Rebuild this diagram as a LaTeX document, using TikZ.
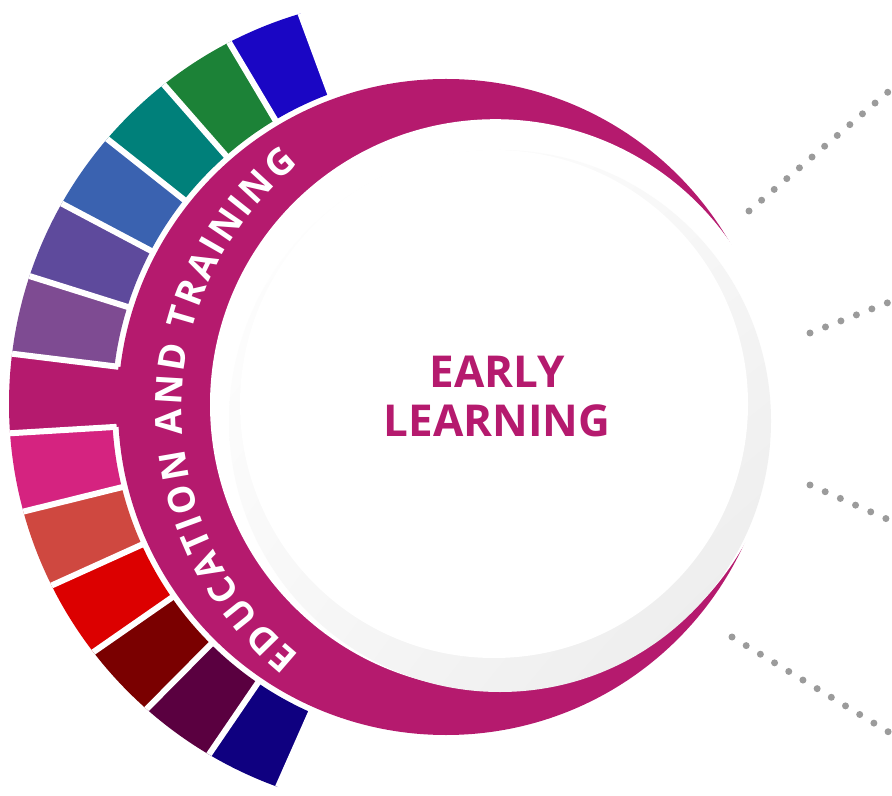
\documentclass[tikz,border=0pt]{standalone}
\usepackage{fontspec}
\setmainfont{Open Sans}
\usetikzlibrary{decorations.text,shadings}
\definecolor{ringmag}{RGB}{181,26,110}
\definecolor{bA}{RGB}{26,6,196}
\definecolor{bB}{RGB}{28,130,55}
\definecolor{bC}{RGB}{0,128,122}
\definecolor{bD}{RGB}{58,98,176}
\definecolor{bE}{RGB}{94,74,156}
\definecolor{bF}{RGB}{126,75,146}
\definecolor{bG}{RGB}{213,35,128}
\definecolor{bH}{RGB}{207,72,64}
\definecolor{bI}{RGB}{220,0,0}
\definecolor{bJ}{RGB}{122,0,0}
\definecolor{bK}{RGB}{90,0,64}
\definecolor{bL}{RGB}{15,0,128}
\definecolor{dotgrey}{RGB}{155,155,155}
\newcommand\curvefont{\bfseries\fontsize{21}{25}\selectfont}
\tikzset{
  sepline/.style={draw=white, line width=0.12cm},
  dotline/.style={draw=dotgrey, line width=0.14cm, line cap=round, dash pattern=on 0pt off 0.332cm},
  titletext/.style={font=\bfseries\fontsize{25}{28}\selectfont, text=ringmag, inner sep=0pt, anchor=base}
}
\begin{document}
\begin{tikzpicture}[x=0.02cm,y=0.02cm]
\useasboundingbox (0,0) rectangle (892,795);
\clip (0,0) rectangle (892,795);
% coloured blocks
\begin{scope}[shift={(446,388)}]
  \clip (-30,3) circle[radius=407];
  \foreach \c/\ri [count=\k from 0] in {bA/334,bB/334,bC/334,bD/334,bE/334,bF/334,ringmag/300,bG/334,bH/334,bI/334,bJ/334,bK/334,bL/334} {
    \pgfmathsetmacro\a{110.3+10.45*\k}
    \pgfmathsetmacro\b{\a+10.45}
    \fill[\c] (\a:\ri) -- (\a:520) arc[start angle=\a, end angle=\b, radius=520] -- (\b:\ri) arc[start angle=\b, end angle=\a, radius=\ri] -- cycle;
  }
  \foreach \k in {0,...,13} {
    \pgfmathsetmacro\a{110.3+10.45*\k}
    \draw[sepline] (\a:330) -- (\a:520);
  }
\end{scope}
% magenta crescent
\fill[ringmag] (446,388) circle[radius=328];
\fill[white] (495.4,390.4) circle[radius=285.4];
% disc
\shade[upper left=white, upper right=black!3, lower left=black!3, lower right=black!8] (500,374) circle[radius=271];
\fill[white] (494,391) circle[radius=254];
% curved label
\begin{scope}[shift={(498,385)}]
  \path[decorate, decoration={text effects along path,
     text={EDUCATION AND TRAINING}, text align=center,
     text effects/.cd, text along path, fit text to path,
     every character/.style={font=\curvefont, text=white, inner sep=0pt}}]
     (231:316) arc[start angle=231, end angle=129, radius=316];
\end{scope}
% title
\node[titletext] (early) at (497,407) {EARLY};
\node[titletext] (learning) at (497,358) {LEARNING};
% dotted leaders
\coordinate (d1s) at (749,584); \coordinate (d1e) at (909,721);
\coordinate (d2s) at (810,462); \coordinate (d2e) at (905,499);
\coordinate (d3s) at (810,310); \coordinate (d3e) at (905,268);
\coordinate (d4s) at (732,158); \coordinate (d4e) at (905,53);
\draw[dotline] (d1s) -- (d1e);
\draw[dotline] (d2s) -- (d2e);
\draw[dotline] (d3s) -- (d3e);
\draw[dotline] (d4s) -- (d4e);
\end{tikzpicture}
\end{document}
